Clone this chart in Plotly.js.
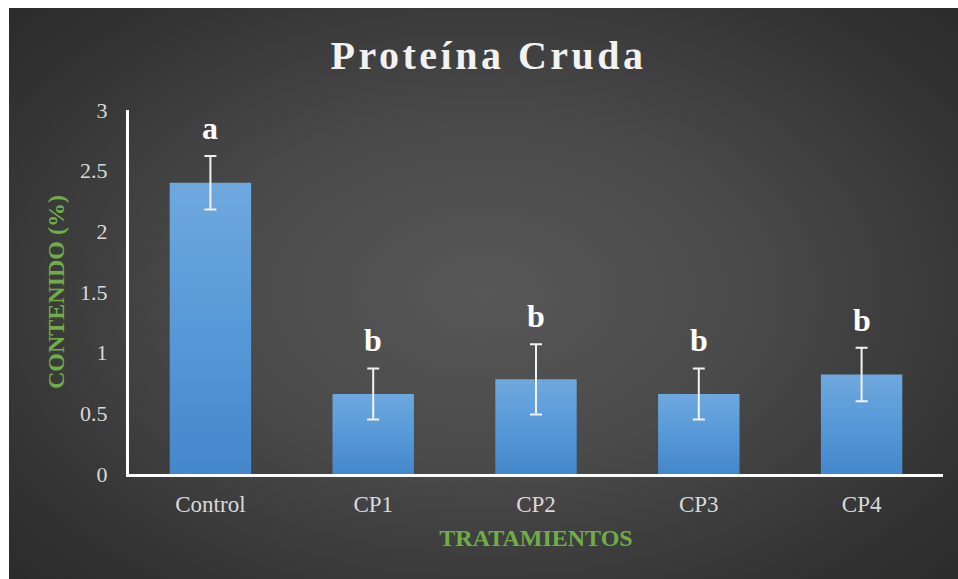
<!DOCTYPE html>
<html>
<head>
<meta charset="utf-8">
<script src="https://cdn.plot.ly/plotly-3.0.1.min.js"></script>
<style>
  html, body { margin: 0; padding: 0; background: #ffffff; }
  #wrap { position: relative; width: 958px; height: 579px; overflow: hidden; background: #ffffff; }
  #bg { position: absolute; left: 9px; top: 8px; width: 949px; height: 571px;
        background: radial-gradient(ellipse 70% 75% at 50% 50%, #575757 0%, #4a4a4a 40%, #333333 80%, #2a2a2a 100%); }
  #chart { position: absolute; left: 0; top: 0; width: 958px; height: 579px; }
  .gtitle { letter-spacing: 3.5px; }
</style>
</head>
<body>
<div id="wrap">
  <div id="bg"></div>
  <div id="chart"></div>
</div>
<script>
const categories = ["Control", "CP1", "CP2", "CP3", "CP4"];
const values = [2.40, 0.66, 0.78, 0.66, 0.82];
const errors = [0.22, 0.21, 0.29, 0.21, 0.22];
const letters = ["a", "b", "b", "b", "b"];
const yTicks = [0, 0.5, 1, 1.5, 2, 2.5, 3];
const yTickLabels = ["0", "0.5", "1", "1.5", "2", "2.5", "3"];

const serif = "Liberation Serif";

const trace = {
  type: "bar",
  x: categories,
  y: values,
  marker: { color: "#5a9ad9", line: { width: 0 } },
  error_y: { type: "data", array: errors, visible: true, color: "#f2f2f2", thickness: 2, width: 6 },
  hoverinfo: "skip"
};

const annotations = categories.map((c, i) => ({
  x: c, y: values[i] + errors[i], xref: "x", yref: "y",
  text: "<b>" + letters[i] + "</b>", showarrow: false,
  yanchor: "bottom", yshift: 8,
  font: { family: serif, size: 32, color: "#ffffff" }
}));

const layout = {
  width: 958, height: 579,
  paper_bgcolor: "rgba(0,0,0,0)",
  plot_bgcolor: "rgba(0,0,0,0)",
  font: { family: serif },
  margin: { l: 129, r: 15, t: 110, b: 105 },
  bargap: 0.5,
  showlegend: false,
  title: {
    text: "<b>Proteína Cruda</b>",
    font: { family: serif, size: 40, color: "#f2f2f2" },
    x: 0.51, xanchor: "center",
    y: 0.905, yref: "container", yanchor: "middle"
  },
  xaxis: {
    showline: true, linecolor: "#ffffff", linewidth: 3,
    showgrid: false, zeroline: false,
    ticks: "outside", ticklen: 7, tickcolor: "rgba(0,0,0,0)",
    tickfont: { family: serif, size: 23, color: "#d9d9d9" },
    title: { text: "<b>TRATAMIENTOS</b>", font: { family: serif, size: 24, color: "#70ad47" }, standoff: 14 }
  },
  yaxis: {
    range: [0, 3], tickvals: yTicks, ticktext: yTickLabels,
    showline: true, linecolor: "#ffffff", linewidth: 3,
    showgrid: false, zeroline: false,
    ticks: "outside", ticklen: 14, tickcolor: "rgba(0,0,0,0)",
    tickfont: { family: serif, size: 22, color: "#d9d9d9" },
    title: { text: "<b>CONTENIDO (%)</b>", font: { family: serif, size: 24, color: "#70ad47" }, standoff: 9 }
  },
  annotations: annotations
};

Plotly.newPlot("chart", [trace], layout, { staticPlot: true, displayModeBar: false }).then(function (gd) {
  const svg = gd.querySelector("svg.main-svg");
  const ns = "http://www.w3.org/2000/svg";
  let defs = svg.querySelector("defs");
  if (!defs) { defs = document.createElementNS(ns, "defs"); svg.insertBefore(defs, svg.firstChild); }
  const lg = document.createElementNS(ns, "linearGradient");
  lg.setAttribute("id", "bargrad");
  lg.setAttribute("x1", "0"); lg.setAttribute("y1", "0");
  lg.setAttribute("x2", "0"); lg.setAttribute("y2", "1");
  [["0", "#6fa8de"], ["0.5", "#5799d8"], ["1", "#4487cb"]].forEach(function (s) {
    const st = document.createElementNS(ns, "stop");
    st.setAttribute("offset", s[0]); st.setAttribute("stop-color", s[1]);
    lg.appendChild(st);
  });
  defs.appendChild(lg);
  gd.querySelectorAll(".bars .point path").forEach(function (p) { p.style.fill = "url(#bargrad)"; });
});
</script>
</body>
</html>
